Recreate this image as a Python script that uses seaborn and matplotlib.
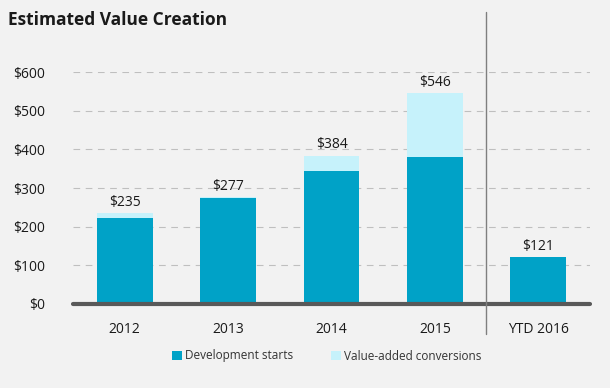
import matplotlib
matplotlib.use("Agg")
import matplotlib.pyplot as plt
import seaborn as sns
import pandas as pd
from matplotlib.patches import Patch
from matplotlib.lines import Line2D

# Estimated value creation ($ millions)
periods = ["2012", "2013", "2014", "2015", "YTD 2016"]
development_starts = [222, 273, 345, 380, 121]
value_added = [13, 4, 39, 166, 0]
totals = [235, 277, 384, 546, 121]
y_ticks = [0, 100, 200, 300, 400, 500, 600]

DARK = "#00A2C7"
LIGHT = "#C6F2FB"
BG = "#F2F2F2"

df = pd.DataFrame({
    "period": periods,
    "starts": development_starts,
    "total": [s + v for s, v in zip(development_starts, value_added)],
})

sns.set_theme(style="white")
plt.rcParams["font.family"] = ["Open Sans", "DejaVu Sans"]

fig = plt.figure(figsize=(6.10, 3.88), dpi=100, facecolor=BG)
ax = fig.add_axes([0.1197, 0.2165, 0.8475, 0.5979])
ax.set_facecolor(BG)

# Stacked bars: full height in light colour, development starts overlaid
sns.barplot(data=df, x="period", y="total", color=LIGHT, width=0.54,
            saturation=1, linewidth=0, ax=ax, zorder=3)
sns.barplot(data=df, x="period", y="starts", color=DARK, width=0.54,
            saturation=1, linewidth=0, ax=ax, zorder=4)

# Value labels above each bar
for i, t in enumerate(totals):
    ax.text(i, t + 8, f"${t}", ha="center", va="bottom", fontsize=10,
            color="#1a1a1a", zorder=5)

ax.set_ylim(0, 600)
ax.set_xlim(-0.5, 4.5)
ax.set_yticks(y_ticks)
ax.set_yticklabels([f"${v}" for v in y_ticks], fontsize=10, color="#1a1a1a")
ax.tick_params(axis="x", labelsize=10, colors="#1a1a1a", length=0, pad=13)
ax.tick_params(axis="y", length=0, pad=20)
ax.set_xlabel("")
ax.set_ylabel("")

for v in y_ticks[1:]:
    ax.axhline(v, color="#BFBFBF", lw=0.8, ls=(0, (6, 5)), zorder=1)

for s in ax.spines.values():
    s.set_visible(False)
ax.axhline(0, color="#595959", lw=3, zorder=6, clip_on=False)

# Separator between full years and year-to-date
fig.add_artist(Line2D([486 / 610, 486 / 610], [1 - 12 / 388, 1 - 334 / 388],
                      color="#7F7F7F", lw=1))

fig.text(8 / 610, 1 - 20 / 388, "Estimated Value Creation", fontsize=12.5,
         fontweight="bold", color="#1a1a1a", va="center", ha="left")

handles = [Patch(facecolor=DARK, edgecolor="none"),
           Patch(facecolor=LIGHT, edgecolor="none")]
fig.legend(handles, ["Development starts", "Value-added conversions"],
           loc="center", bbox_to_anchor=(0.536, 1 - 356 / 388), ncol=2,
           frameon=False, fontsize=8.5, handlelength=0.8, handleheight=0.8,
           handletextpad=0.3, columnspacing=3.2, labelcolor="#333333")

fig.savefig("out.png", dpi=100, facecolor=BG)
